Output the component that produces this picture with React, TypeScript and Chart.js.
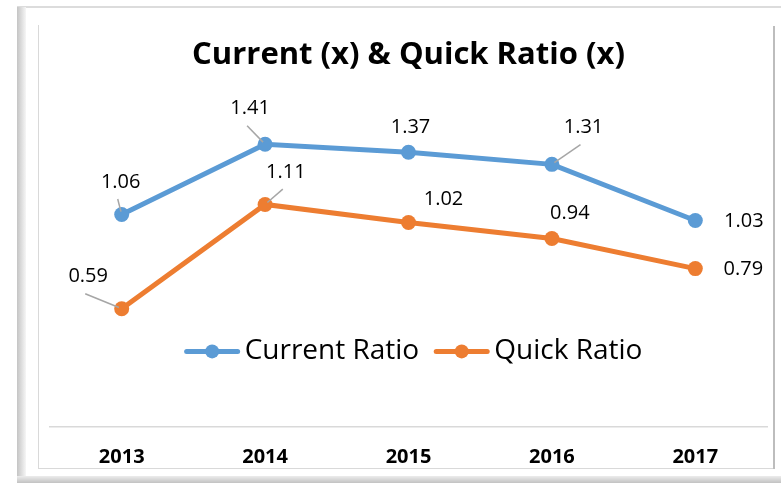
import React, { useEffect, useRef } from "react";
import { Chart, registerables } from "chart.js";

Chart.register(...registerables);

const years = ["2013", "2014", "2015", "2016", "2017"];
const currentRatio = [1.06, 1.41, 1.37, 1.31, 1.03];
const quickRatio = [0.59, 1.11, 1.02, 0.94, 0.79];
const yMin = 0;
const yMax = 1.6;
const titleText = "Current (x) & Quick Ratio (x)";
const seriesNames = ["Current Ratio", "Quick Ratio"];
const seriesColors = ["#5B9BD5", "#ED7D31"];

// label placement relative to each point (style only)
const labelOffsets = [
  [[-1, -32.5], [-15, -35.5], [2, -25], [31.6, -36.8], [48.5, 0.5]],
  [[-33.5, -32], [20.7, -32.3], [35, -23], [18, -25.6], [48, 1]],
];
const leaderFlags = [
  [true, true, false, true, false],
  [true, true, false, false, false],
];

const FONT = "'Open Sans', 'DejaVu Sans', sans-serif";

const framePlugin = {
  id: "frame",
  beforeDraw(chart: any) {
    const ctx = chart.ctx;
    const w = chart.width;
    ctx.save();
    ctx.fillStyle = "#ffffff";
    ctx.fillRect(0, 0, w, chart.height);
    ctx.fillStyle = "#dcdcdc";
    ctx.fillRect(17, 6, w - 17, 2);
    const gl = ctx.createLinearGradient(17, 0, 26, 0);
    gl.addColorStop(0, "#c4c4c4");
    gl.addColorStop(0.4, "#d8d8d8");
    gl.addColorStop(1, "#f6f6f6");
    ctx.fillStyle = gl;
    ctx.fillRect(17, 7, 9, 470);
    const gb = ctx.createLinearGradient(0, 476, 0, 483);
    gb.addColorStop(0, "#ececec");
    gb.addColorStop(1, "#c2c2c2");
    ctx.fillStyle = gb;
    ctx.fillRect(17, 476, w - 17, 7);
    ctx.fillStyle = "#d9d9d9";
    ctx.fillRect(38, 25, 1, 444);
    ctx.fillRect(38, 468, 737, 1);
    ctx.fillStyle = "#bdbdbd";
    ctx.fillRect(773, 26, 2, 443);
    ctx.restore();
  },
};

const labelPlugin = {
  id: "valueLabels",
  afterDatasetsDraw(chart: any) {
    const ctx = chart.ctx;
    ctx.save();
    chart.data.datasets.forEach((ds: any, di: number) => {
      const meta = chart.getDatasetMeta(di);
      meta.data.forEach((pt: any, i: number) => {
        const [dx, dy] = labelOffsets[di][i];
        const lx = pt.x + dx;
        const ly = pt.y + dy;
        if (leaderFlags[di][i]) {
          const sx = lx - 3;
          const sy = ly + 17;
          const vx = sx - pt.x;
          const vy = sy - pt.y;
          const len = Math.hypot(vx, vy);
          const ex = pt.x + (vx / len) * 3;
          const ey = pt.y + (vy / len) * 3;
          ctx.strokeStyle = "#a6a6a6";
          ctx.lineWidth = 1.5;
          ctx.beginPath();
          ctx.moveTo(sx, sy);
          ctx.lineTo(ex, ey);
          ctx.stroke();
        }
        ctx.fillStyle = "#000000";
        ctx.font = `20px ${FONT}`;
        ctx.textAlign = "center";
        ctx.textBaseline = "middle";
        ctx.fillText(ds.data[i].toFixed(2), lx, ly);
      });
    });
    ctx.restore();
  },
};

const legendPlugin = {
  id: "innerLegend",
  afterDraw(chart: any) {
    const ctx = chart.ctx;
    const area = chart.chartArea;
    ctx.save();
    ctx.font = `28px ${FONT}`;
    const seg = 55;
    const gap = 5;
    const itemGap = 15;
    const widths = seriesNames.map((n) => ctx.measureText(n).width);
    const total = widths.reduce((a, b) => a + b, 0) + 2 * (seg + gap) + itemGap;
    let x = (area.left + area.right) / 2 + 5 - total / 2;
    const y = area.bottom - 75.6;
    seriesNames.forEach((name, i) => {
      ctx.strokeStyle = seriesColors[i];
      ctx.lineWidth = 5;
      ctx.lineCap = "round";
      ctx.beginPath();
      ctx.moveTo(x + 2, y);
      ctx.lineTo(x + seg - 2, y);
      ctx.stroke();
      ctx.fillStyle = seriesColors[i];
      ctx.beginPath();
      ctx.arc(x + seg / 2, y, 7, 0, Math.PI * 2);
      ctx.fill();
      ctx.fillStyle = "#000000";
      ctx.textAlign = "left";
      ctx.textBaseline = "middle";
      ctx.fillText(name, x + seg + gap, y);
      x += seg + gap + widths[i] + itemGap;
    });
    ctx.restore();
  },
};

export default function App() {
  const ref = useRef<HTMLCanvasElement | null>(null);
  useEffect(() => {
    if (!ref.current) return;
    const chart = new Chart(ref.current, {
      type: "line",
      data: {
        labels: years,
        datasets: [
          {
            label: seriesNames[0],
            data: currentRatio,
            borderColor: seriesColors[0],
            backgroundColor: seriesColors[0],
            borderWidth: 5,
            pointRadius: 7.5,
            pointBorderWidth: 0,
            pointBackgroundColor: seriesColors[0],
            tension: 0,
          },
          {
            label: seriesNames[1],
            data: quickRatio,
            borderColor: seriesColors[1],
            backgroundColor: seriesColors[1],
            borderWidth: 5,
            pointRadius: 7.5,
            pointBorderWidth: 0,
            pointBackgroundColor: seriesColors[1],
            tension: 0,
          },
        ],
      },
      options: {
        responsive: false,
        animation: false,
        layout: { padding: { left: 50, right: 14, top: 18, bottom: -4 } },
        plugins: {
          legend: { display: false },
          tooltip: { enabled: false },
          title: {
            display: true,
            text: titleText,
            color: "#000000",
            font: { family: FONT, size: 31, weight: "bold" },
            padding: { top: 19, bottom: 32 },
          },
        },
        scales: {
          x: {
            offset: true,
            grid: { display: false, drawTicks: false },
            border: { display: true, color: "#d9d9d9", width: 1.5 },
            ticks: {
              color: "#000000",
              font: { family: FONT, size: 20, weight: "bold" },
              padding: 18,
            },
          },
          y: {
            display: false,
            min: yMin,
            max: yMax,
          },
        },
      },
      plugins: [framePlugin, labelPlugin, legendPlugin],
    });
    return () => chart.destroy();
  }, []);
  return (
    <div style={{ position: "absolute", left: 0, top: 0, width: 781, height: 483 }}>
      <canvas ref={ref} width={781} height={483} />
    </div>
  );
}
